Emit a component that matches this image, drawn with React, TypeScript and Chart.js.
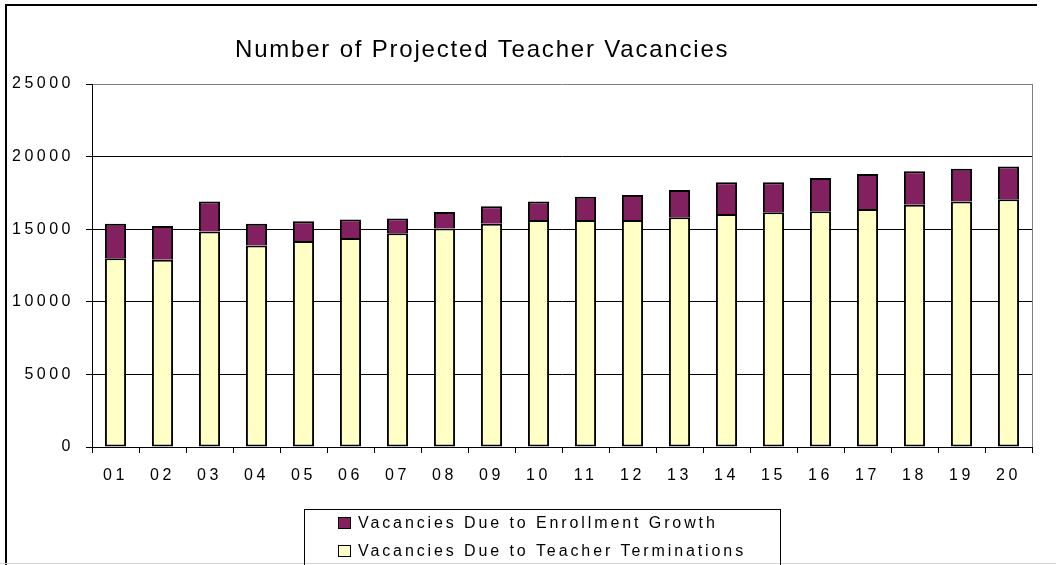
import React, { useEffect, useRef } from "react";
import { Chart, registerables } from "chart.js";

Chart.register(...registerables);

const TITLE = "Number of Projected Teacher Vacancies";
const categories = ["01", "02", "03", "04", "05", "06", "07", "08", "09", "10", "11", "12", "13", "14", "15", "16", "17", "18", "19", "20"];
const terminations = [13000, 12900, 14850, 13870, 14190, 14390, 14720, 15040, 15380, 15630, 15630, 15630, 15820, 16050, 16160, 16230, 16390, 16690, 16900, 17060];
const growth = [2380, 2320, 2050, 1510, 1350, 1270, 1010, 1150, 1200, 1270, 1610, 1730, 1880, 2180, 2070, 2300, 2410, 2300, 2270, 2250];
const yTicks = [0, 5000, 10000, 15000, 20000, 25000];

const FONT = '"Liberation Sans", Arial, sans-serif';
const PURPLE = "#832060";
const YELLOW = "#FFFFC6";

const spacingPlugin = {
  id: "spacing",
  beforeUpdate(chart: any) { chart.ctx.letterSpacing = "3.5px"; },
  beforeLayout(chart: any) { chart.ctx.letterSpacing = "3.5px"; },
  beforeDraw(chart: any) { chart.ctx.letterSpacing = "3.5px"; },
};

const framePlugin = {
  id: "frame",
  beforeDraw(chart: any) {
    const ctx = chart.ctx;
    ctx.save();
    ctx.fillStyle = "#ffffff";
    ctx.fillRect(0, 0, chart.width, chart.height);
    ctx.strokeStyle = "#000000";
    ctx.lineWidth = 2;
    ctx.beginPath();
    ctx.moveTo(6, 565);
    ctx.lineTo(6, 5);
    ctx.lineTo(1037, 5);
    ctx.stroke();
    ctx.strokeStyle = "#d4d4d4";
    ctx.lineWidth = 1;
    ctx.beginPath();
    ctx.moveTo(0, 563.5);
    ctx.lineTo(1056, 563.5);
    ctx.stroke();
    ctx.restore();
  },
  beforeDatasetsDraw(chart: any) {
    const ctx = chart.ctx;
    const a = chart.chartArea;
    ctx.save();
    ctx.strokeStyle = "#808080";
    ctx.lineWidth = 1;
    ctx.beginPath();
    ctx.moveTo(Math.round(a.right) + 0.5, a.top);
    ctx.lineTo(Math.round(a.right) + 0.5, a.bottom);
    ctx.stroke();
    ctx.restore();
  },
  afterDraw(chart: any) {
    const ctx = chart.ctx;
    ctx.save();
    // title
    ctx.letterSpacing = "1.8px";
    ctx.font = `24px ${FONT}`;
    ctx.fillStyle = "#000";
    ctx.textAlign = "left";
    ctx.textBaseline = "alphabetic";
    ctx.fillText(TITLE, 235, 57);
    // legend
    ctx.strokeStyle = "#000";
    ctx.lineWidth = 1;
    ctx.strokeRect(304.5, 509.5, 476, 70);
    const ds = chart.data.datasets.slice().reverse();
    const baselines = [528, 556];
    ctx.font = `16px ${FONT}`;
    ctx.letterSpacing = "2.9px";
    ds.forEach((d: any, i: number) => {
      const b = baselines[i];
      ctx.fillStyle = d.backgroundColor;
      ctx.fillRect(338, b - 11, 13, 12);
      ctx.strokeRect(338.5, b - 10.5, 12, 11);
      ctx.fillStyle = "#000";
      ctx.fillText(d.label, 358, b);
    });
    ctx.restore();
  },
};

export default function App() {
  const ref = useRef<HTMLCanvasElement>(null);
  useEffect(() => {
    const chart = new Chart(ref.current!, {
      type: "bar",
      data: {
        labels: categories,
        datasets: [
          {
            label: "Vacancies Due to Teacher Terminations",
            data: terminations,
            backgroundColor: YELLOW,
            borderColor: "#000",
            borderWidth: 2,
            borderSkipped: false,
          },
          {
            label: "Vacancies Due to Enrollment Growth",
            data: growth,
            backgroundColor: PURPLE,
            borderColor: "#000",
            borderWidth: 2,
            borderSkipped: "start",
          },
        ],
      },
      options: {
        responsive: false,
        animation: false,
        devicePixelRatio: 1,
        layout: { padding: { left: 0, top: 84, right: 24, bottom: 0 } },
        datasets: { bar: { categoryPercentage: 1, barPercentage: 0.45 } },
        plugins: { legend: { display: false }, title: { display: false }, tooltip: { enabled: false } },
        scales: {
          x: {
            stacked: true,
            offset: true,
            grid: { display: true, drawOnChartArea: false, offset: true, tickLength: 6, color: "#000", lineWidth: 1 },
            border: { display: true, color: "#000", width: 1 },
            ticks: { color: "#000", font: { family: FONT, size: 16 }, padding: 13, maxRotation: 0, autoSkip: false },
            afterFit: (s: any) => { s.height = 118; },
          },
          y: {
            stacked: true,
            min: 0,
            max: 25000,
            afterBuildTicks: (s: any) => { s.ticks = yTicks.map((v) => ({ value: v })); },
            grid: {
              color: (c: any) => (c.tick && c.tick.value === 25000 ? "#808080" : "#000"),
              tickColor: "#000",
              tickLength: 6,
              lineWidth: 1,
            },
            border: { display: true, color: "#000", width: 1 },
            ticks: {
              color: "#000",
              font: { family: FONT, size: 16 },
              padding: 12,
              callback: (v: any) => String(v),
            },
            afterFit: (s: any) => { s.width = 92; },
          },
        },
      },
      plugins: [spacingPlugin, framePlugin],
    } as any);
    return () => chart.destroy();
  }, []);
  return (
    <div style={{ position: "absolute", left: 0, top: 0, width: 1056, height: 565 }}>
      <canvas ref={ref} width={1056} height={565} style={{ display: "block" }} />
    </div>
  );
}
